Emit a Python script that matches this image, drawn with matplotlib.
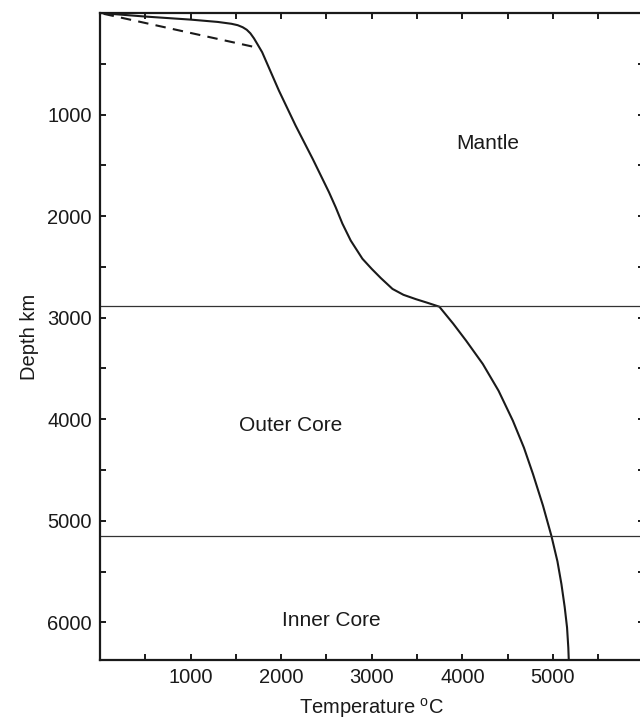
import matplotlib.pyplot as plt
from matplotlib.ticker import FixedLocator

plt.rcParams['font.family'] = ['Liberation Sans', 'DejaVu Sans']
plt.rcParams['mathtext.fontset'] = 'custom'
plt.rcParams['mathtext.rm'] = 'Liberation Sans'

# geotherm: temperature (deg C) vs depth (km)
temp_solid = [0, 500, 1000, 1300, 1450, 1520, 1575, 1620, 1660, 1700, 1740,
              1790, 1975, 2159, 2350, 2528, 2602, 2676, 2768, 2897, 3000,
              3100, 3229, 3350, 3488, 3620, 3746, 3900, 4042, 4226, 4400,
              4558, 4680, 4780, 4890, 4983, 5050, 5094, 5130, 5156, 5170, 5175]
depth_solid = [0, 35, 65, 88, 106, 120, 140, 165, 200, 250, 310,
               386, 764, 1108, 1440, 1765, 1913, 2074, 2241, 2420, 2520,
               2610, 2717, 2775, 2818, 2855, 2892, 3060, 3227, 3456, 3720,
               4015, 4280, 4540, 4850, 5148, 5400, 5624, 5850, 6051, 6250, 6371]

# dashed upper-mantle branch
temp_dashed = [40, 1716]
depth_dashed = [8, 337]

# boundaries
boundaries = [2890, 5150]

regions = ["Mantle", "Outer Core", "Inner Core"]
region_pos = [(4278, 1286), (2107, 4064), (2556, 5985)]

fig = plt.figure(figsize=(6.4, 7.21), dpi=100)
ax = fig.add_axes([100 / 640, 61 / 721, 543.5 / 640, 647 / 721])

ax.plot(temp_solid, depth_solid, color='#1a1a1a', lw=1.5,
        solid_joinstyle='round', solid_capstyle='butt')
ax.plot(temp_dashed, depth_dashed, color='#1a1a1a', lw=1.5, dashes=(5, 3.5))
for b in boundaries:
    ax.axhline(b, color='#333333', lw=0.9)

for name, (x, y) in zip(regions, region_pos):
    ax.text(x, y, name, fontsize=15, ha='center', va='center', color='#1a1a1a')

ax.set_xlim(0, 6000)
ax.set_ylim(6371, 0)

ax.xaxis.set_major_locator(FixedLocator([1000, 2000, 3000, 4000, 5000]))
ax.xaxis.set_minor_locator(FixedLocator([500, 1500, 2500, 3500, 4500, 5500]))
ax.yaxis.set_major_locator(FixedLocator([1000, 2000, 3000, 4000, 5000, 6000]))
ax.yaxis.set_minor_locator(FixedLocator([500, 1500, 2500, 3500, 4500, 5500]))

ax.tick_params(which='both', direction='in', top=True, right=True,
               length=4.5, width=1.4, color='#1a1a1a',
               labelsize=14.5, labelcolor='#1a1a1a', pad=6)

for side in ['left', 'bottom', 'top', 'right']:
    ax.spines[side].set_linewidth(1.6)
    ax.spines[side].set_color('#1a1a1a')

ax.set_xlabel(r"Temperature $^{\mathrm{o}}$C", fontsize=14.5, color='#1a1a1a', labelpad=6)
ax.set_ylabel("Depth km", fontsize=14.5, color='#1a1a1a', labelpad=6)

fig.savefig("out.png", dpi=100)
